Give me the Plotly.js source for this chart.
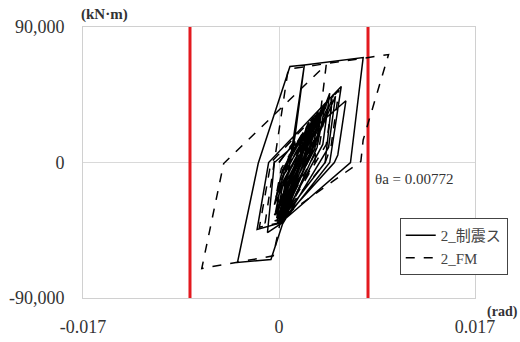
<!DOCTYPE html>
<html>
<head>
<meta charset="utf-8">
<script src="https://cdn.plot.ly/plotly-3.0.1.min.js"></script>
<style>html,body{margin:0;padding:0;background:#fff;}#chart{width:520px;height:342px;}</style>
</head>
<body>
<div id="chart"></div>
<script>
// Series names
const seriesNames = ['2_制震ス', '2_FM'];

// Solid series (rotation rad, moment kN·m)
const solidRad = [0, 0.0014, 0.0009, -0.0002, 0.0003, 0.0021, 0.0015, -0.0004, 0.0002, 0.0027, 0.0020, -0.0003, 0.0003,
  0.0032, 0.0024, -0.0002, 0.0004, 0.0036, 0.0028, 0.0000, 0.0005, 0.0040, 0.0033, 0.0003,
  0.0030, 0.0024, -0.0001, 0.0025, 0.0019, -0.0003, 0.0034, 0.0027, 0.0001, 0.0038, 0.0031, -0.0002,
  0.0029, 0.0023, -0.0004, 0.0035, 0.0029, 0.0002,
  -0.0019, -0.0009, 0.0054, 0.0048, 0.0044, 0.0003, -0.0010, -0.0004, 0.0058, 0.0051, 0.0048, 0.0002,
  0.0044, 0.0038, 0.0000, 0.0049, 0.0043, 0.0003,
  -0.0007, -0.0036, -0.0018, 0.00095, 0.0022, 0.0073, 0.0062, 0.0003,
  0.0046, 0.0040, 0.0002, 0.0022, 0.0014, 0.0001, 0.0033, 0.0026, -0.0002];
const solidM = [0, 14000, 2000, -22000, -5000, 20000, 4000, -28000, -8000, 26000, 6000, -33000, -10000,
  31000, 8000, -37000, -12000, 34000, 6000, -40000, -15000, 38000, 10000, -41000,
  30000, 7000, -36000, 26000, 4000, -33000, 34000, 10000, -38000, 37000, 9000, -39000,
  29000, 6000, -35000, 33000, 8000, -40000,
  -44500, 0, 50500, 20000, 0, -40000, -46500, 0, 41000, 5000, 0, -39000,
  46000, 12000, -42000, 44000, 10000, -41000,
  -64400, -66400, -500, 63800, 64800, 69700, 0, -39000,
  42000, 0, -38000, 64800, 18000, -36000, 32000, 5000, -37000];

// Dashed series
const dashRad = [0, 0.0012, 0.0007, -0.0003, 0.0002, 0.0024, 0.0017, -0.0002, 0.0004, 0.0030, 0.0022, -0.0001, 0.0005,
  0.0035, 0.0027, 0.0001,
  0.0028, 0.0021, -0.0003, 0.0033, 0.0026, 0.0000, 0.0026, 0.0020, -0.0002, 0.0037, 0.0030, 0.0001,
  -0.0017, -0.0007, 0.0052, 0.0045, 0.0040, 0.0000,
  0.0042, 0.0035, -0.0002, 0.0047, 0.0041, 0.0001,
  -0.0005, -0.0067, -0.0048, 0.0041, 0.0036, 0.0031, 0.0001,
  -0.0012, 0.0008, 0.0095, 0.0073, 0.0071, 0.0000];
const dashM = [0, 13000, 0, -24000, -4000, 24000, 3000, -31000, -9000, 29000, 5000, -36000, -12000,
  33000, 4000, -39000,
  28000, 6000, -35000, 32000, 7000, -38000, 27000, 5000, -34000, 36000, 9000, -40000,
  -43000, 0, 48000, 10000, 0, -38000,
  43000, 11000, -41000, 45000, 12000, -40000,
  -62000, -70400, -700, 65100, 33200, 0, -38000,
  -40000, 62000, 71700, 15000, 700, -37900];

// Allowable rotation lines
const thetaA = 0.00772;
const limitX1 = [-thetaA, -thetaA];
const limitX2 = [thetaA, thetaA];
const limitY = [-90000, 90000];

// Ticks
const xTickVals = [-0.017, 0, 0.017];
const xTickText = ['-0.017', '0', '0.017'];
const yTickVals = [-90000, 0, 90000];
const yTickText = ['-90,000', '0', '90,000'];

const serif = 'Liberation Serif, Times New Roman, serif';
const legendFont = 'Liberation Serif, Noto Sans CJK JP, serif';

const traces = [
  {x: limitX1, y: limitY, mode: 'lines', line: {color: '#e3191f', width: 3}, showlegend: false, hoverinfo: 'skip'},
  {x: limitX2, y: limitY, mode: 'lines', line: {color: '#e3191f', width: 3}, showlegend: false, hoverinfo: 'skip'},
  {x: solidRad, y: solidM, name: seriesNames[0], mode: 'lines', line: {color: '#000', width: 1.5}},
  {x: dashRad, y: dashM, name: seriesNames[1], mode: 'lines', line: {color: '#000', width: 1.5, dash: 'dash'}}
];

const layout = {
  width: 520, height: 342,
  margin: {l: 83, r: 42, t: 27, b: 44, pad: 0},
  paper_bgcolor: '#fff', plot_bgcolor: '#fff',
  showlegend: true,
  legend: {x: 0.808, y: 0.295, xanchor: 'left', yanchor: 'top', bgcolor: '#fff',
    bordercolor: '#444', borderwidth: 1, font: {family: legendFont, size: 15, color: '#444'},
    tracegroupgap: 0, itemwidth: 30},
  xaxis: {range: [-0.017, 0.017], tickvals: xTickVals, ticktext: xTickText, ticks: '',
    showgrid: true, gridcolor: '#d9d9d9', zeroline: true, zerolinecolor: '#d9d9d9', zerolinewidth: 1,
    showline: true, mirror: true, linecolor: '#d0d0d0', linewidth: 1,
    ticklabelstandoff: 12, tickfont: {family: serif, size: 18, color: '#333'}},
  yaxis: {range: [-90000, 90000], tickvals: yTickVals, ticktext: yTickText, ticks: '',
    showgrid: true, gridcolor: '#d9d9d9', zeroline: true, zerolinecolor: '#d9d9d9', zerolinewidth: 1,
    showline: true, mirror: true, linecolor: '#d0d0d0', linewidth: 1,
    ticklabelstandoff: 14, tickfont: {family: serif, size: 18, color: '#333'}},
  annotations: [
    {text: '(kN·m)', xref: 'paper', yref: 'paper', x: -0.01, y: 1.045, xanchor: 'left', yanchor: 'middle',
      showarrow: false, font: {family: serif, size: 15, color: '#333', weight: 'bold'}},
    {text: '(rad)', xref: 'paper', yref: 'paper', x: 1.025, y: -0.05, xanchor: 'left', yanchor: 'middle',
      showarrow: false, font: {family: serif, size: 14, color: '#333', weight: 'bold'}},
    {text: 'θa = 0.00772', xref: 'x', yref: 'y', x: thetaA, y: -11000, xanchor: 'left', yanchor: 'middle', xshift: 5,
      showarrow: false, font: {family: serif, size: 15, color: '#333'}}
  ]
};

Plotly.newPlot('chart', traces, layout, {displayModeBar: false, staticPlot: true});
</script>
</body>
</html>
